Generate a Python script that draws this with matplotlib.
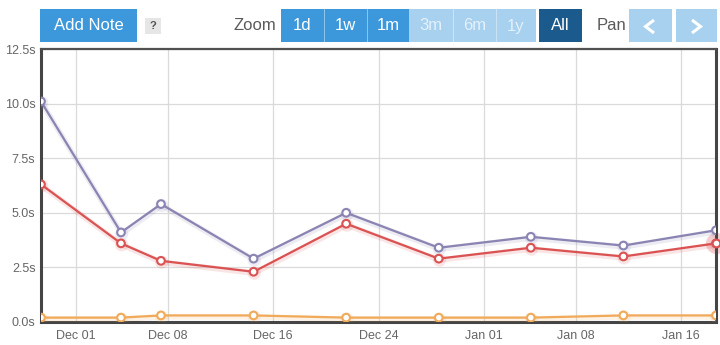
import matplotlib
matplotlib.use('Agg')
import matplotlib.pyplot as plt
import matplotlib.patheffects as pe
from matplotlib.patches import Rectangle
import pandas as pd

plt.rcParams['font.family'] = ['Liberation Sans', 'DejaVu Sans']

# sample times and response times (seconds)
times = pd.to_datetime([
    '2015-11-28 08:00', '2015-12-04 10:00', '2015-12-07 11:00',
    '2015-12-14 12:00', '2015-12-21 13:00', '2015-12-28 14:00',
    '2016-01-04 14:00', '2016-01-11 15:00', '2016-01-18 16:00',
])
total = [10.1, 4.1, 5.4, 2.9, 5.0, 3.4, 3.9, 3.5, 4.2]
render = [6.3, 3.6, 2.8, 2.3, 4.5, 2.9, 3.4, 3.0, 3.6]
first_byte = [0.2, 0.2, 0.3, 0.3, 0.2, 0.2, 0.2, 0.3, 0.3]

tick_dates = pd.to_datetime(['2015-12-01', '2015-12-08', '2015-12-16', '2015-12-24',
                             '2016-01-01', '2016-01-08', '2016-01-16'])
tick_labels = ['Dec 01', 'Dec 08', 'Dec 16', 'Dec 24', 'Jan 01', 'Jan 08', 'Jan 16']
y_ticks = [0, 2.5, 5, 7.5, 10, 12.5]

W, H = 720, 345
fig = plt.figure(figsize=(W / 100, H / 100), dpi=100)
ax = fig.add_axes([41 / W, (H - 322) / H, (716 - 41) / W, (322 - 49) / H])

series = [
    (total, '#8a84b2'),
    (render, '#da5252'),
    (first_byte, '#f0aa5a'),
]
for vals, col in series:
    ax.plot(times, vals, color=col, lw=1.6, zorder=3,
            marker='o', ms=5.5, mfc='white', mec=col, mew=1.5,
            path_effects=[pe.SimpleLineShadow(offset=(0.5, -1.0), shadow_color=col,
                                              alpha=0.15, linewidth=4),
                          pe.Normal()])

# hover halo on the latest render point
ax.scatter([times[-1]], [render[-1]], s=230, color='#da5252', alpha=0.28,
           lw=0, zorder=2, clip_on=False)
ax.plot([times[-1]], [render[-1]], 'o', ms=5.5, mfc='white', mec='#da5252',
        mew=1.5, zorder=4, clip_on=False)

ax.set_xlim(times[0], times[-1])
ax.set_ylim(0, 12.5)
ax.set_xticks(tick_dates)
ax.set_xticklabels(tick_labels)
ax.set_yticks(y_ticks)
ax.set_yticklabels([f'{v:.1f}s' for v in y_ticks])
ax.tick_params(length=0, labelsize=9, colors='#666666', pad=4)
ax.tick_params(axis='x', pad=6)
ax.grid(True, color='#dadada', lw=0.9)
ax.set_axisbelow(True)
for side in ['left', 'bottom', 'right']:
    ax.spines[side].set_color('#454545')
    ax.spines[side].set_linewidth(2.2)
ax.spines['top'].set_color('#505050')
ax.spines['top'].set_linewidth(1.6)

# toolbar drawn in pixel coordinates
bar = fig.add_axes([0, 0, 1, 1], zorder=-1)
bar.set_xlim(0, W)
bar.set_ylim(H, 0)
bar.axis('off')

BLUE, LIGHT, DARK = '#3d98db', '#a8d0ef', '#1b5a8c'

def button(x0, x1, label, face, tcol='white'):
    bar.add_patch(Rectangle((x0, 9), x1 - x0, 33, color=face, lw=0))
    if label:
        bar.text((x0 + x1) / 2, 26, label, ha='center', va='center',
                 fontsize=12, color=tcol)

button(40, 137, 'Add Note', BLUE)
bar.add_patch(Rectangle((145, 18), 16, 16, color='#e6e6e6', lw=0))
bar.text(153, 26, '?', ha='center', va='center', fontsize=8,
         color='#555555', fontweight='bold')
bar.text(255, 26, 'Zoom', ha='center', va='center', fontsize=12, color='#5a5a5a')

zoom_btns = [(281, 324, '1d', BLUE), (324, 367, '1w', BLUE),
             (367, 409, '1m', BLUE), (409, 453, '3m', LIGHT),
             (453, 496, '6m', LIGHT), (496, 536, '1y', LIGHT),
             (539, 582, 'All', DARK)]
for x0, x1, lab, face in zoom_btns:
    button(x0, x1, lab, face, '#e4f1fb' if face == LIGHT else 'white')
for xs in [324, 367, 453, 496]:
    bar.plot([xs, xs], [9, 42], color='#ffffff', lw=0.6, alpha=0.5)

bar.text(611, 26, 'Pan', ha='center', va='center', fontsize=12, color='#5a5a5a')
button(629, 672, '', LIGHT)
button(676, 717, '', LIGHT)
# pan arrows
bar.plot([654, 645.5, 654], [20, 26.5, 33], color='white', lw=2.2,
         solid_joinstyle='miter', solid_capstyle='butt')
bar.plot([692, 700.5, 692], [20, 26.5, 33], color='white', lw=2.2,
         solid_joinstyle='miter', solid_capstyle='butt')

fig.savefig('out.png', dpi=100)
